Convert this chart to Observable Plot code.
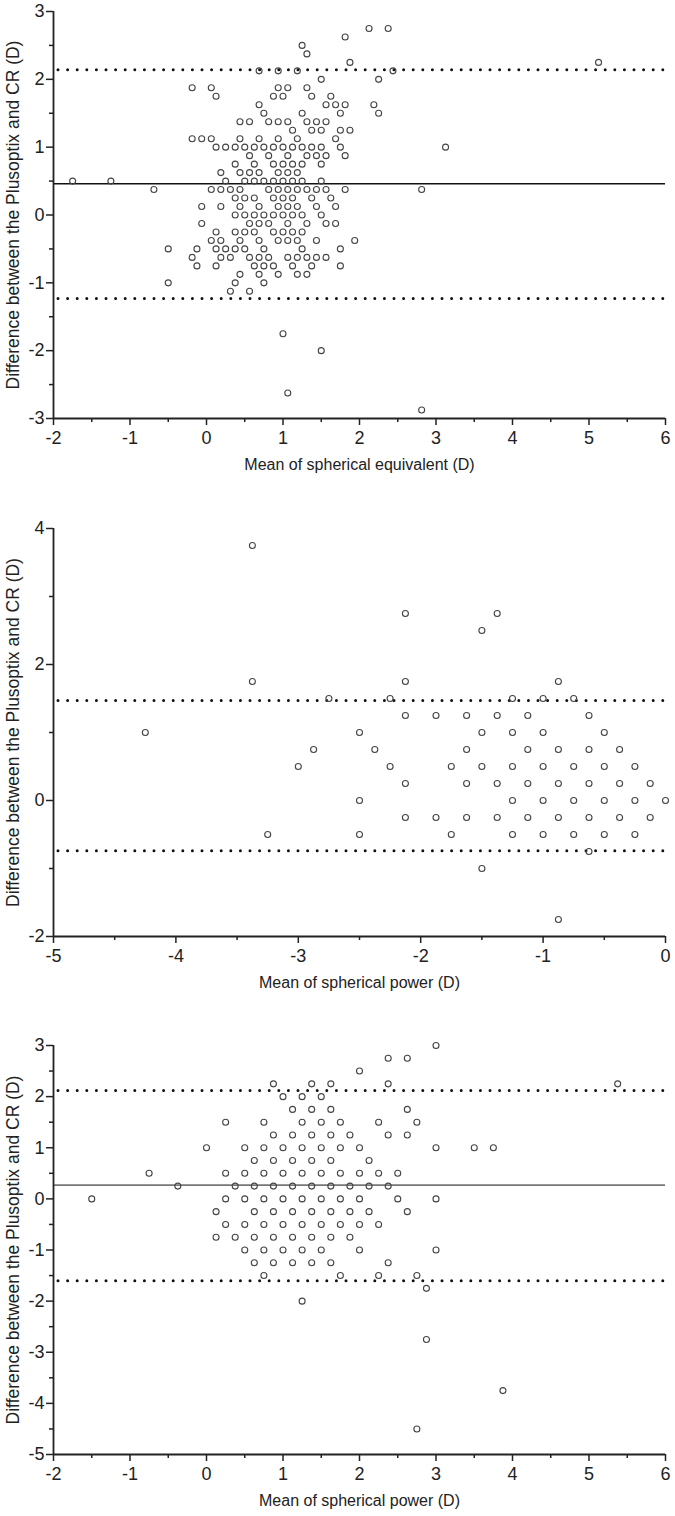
<!DOCTYPE html>
<html><head><meta charset="utf-8">
<script src="https://cdn.jsdelivr.net/npm/d3@7"></script>
<script src="https://cdn.jsdelivr.net/npm/@observablehq/plot@0.6"></script>
<style>
html,body{margin:0;padding:0;background:#fff;}
#chart svg{display:block;}
</style></head><body><div id="chart"></div>
<script>
// ---------- DATA ----------
// Panel A: mean of spherical equivalent vs difference; rows: [difference, [means...]]
const seRows = [
  [2.75, [2.125, 2.375]],
  [2.625, [1.8125]],
  [2.5, [1.25]],
  [2.375, [1.3125]],
  [2.25, [1.875, 5.125]],
  [2.125, [0.6875, 0.9375, 1.1875, 2.4375]],
  [2.0, [1.5, 2.25]],
  [1.875, [-0.1875, 0.0625, 0.9375, 1.0625, 1.3125]],
  [1.75, [0.125, 0.875, 1.0, 1.375, 1.625]],
  [1.625, [0.6875, 1.5625, 1.6875, 1.8125, 2.1875]],
  [1.5, [0.75, 1.25, 1.75, 2.25]],
  [1.375, [0.4375, 0.5625, 0.8125, 0.9375, 1.0625, 1.3125, 1.4375, 1.5625]],
  [1.25, [1.125, 1.375, 1.5, 1.75, 1.875]],
  [1.125, [-0.1875, -0.0625, 0.0625, 0.4375, 0.6875, 0.9375, 1.1875, 1.6875]],
  [1.0, [0.125, 0.25, 0.375, 0.5, 0.625, 0.75, 0.875, 1.0, 1.125, 1.25, 1.375, 1.5, 1.75, 3.125]],
  [0.875, [0.5625, 0.8125, 1.0625, 1.3125, 1.4375, 1.5625, 1.8125]],
  [0.75, [0.375, 0.625, 0.875, 1.0, 1.125, 1.25, 1.5]],
  [0.625, [0.1875, 0.4375, 0.5625, 0.6875, 0.9375, 1.0625, 1.1875]],
  [0.5, [-1.75, -1.25, 0.25, 0.5, 0.625, 0.75, 0.875, 1.0, 1.125, 1.25, 1.5]],
  [0.375, [-0.6875, 0.0625, 0.1875, 0.3125, 0.4375, 0.8125, 0.9375, 1.0625, 1.1875, 1.3125, 1.4375, 1.5625, 1.8125, 2.8125]],
  [0.25, [0.375, 0.5, 0.625, 0.875, 1.0, 1.125, 1.375, 1.625]],
  [0.125, [-0.0625, 0.1875, 0.4375, 0.6875, 0.9375, 1.0625, 1.1875, 1.4375, 1.6875]],
  [0.0, [0.375, 0.5, 0.625, 0.75, 0.875, 1.0, 1.125, 1.25, 1.5]],
  [-0.125, [-0.0625, 0.5625, 0.6875, 0.8125, 1.0625, 1.3125, 1.5625, 1.6875]],
  [-0.25, [0.125, 0.375, 0.5, 0.625, 0.875, 1.0, 1.125, 1.25]],
  [-0.375, [0.0625, 0.1875, 0.4375, 0.6875, 0.9375, 1.0625, 1.1875, 1.4375, 1.9375]],
  [-0.5, [-0.5, -0.125, 0.125, 0.25, 0.375, 0.5, 0.75, 1.25, 1.75]],
  [-0.625, [-0.1875, 0.1875, 0.3125, 0.5625, 0.6875, 0.8125, 1.0625, 1.1875, 1.3125, 1.4375, 1.5625]],
  [-0.75, [-0.125, 0.125, 0.625, 0.75, 0.875, 1.125, 1.375, 1.75]],
  [-0.875, [0.4375, 0.6875, 0.9375, 1.1875, 1.3125]],
  [-1.0, [-0.5, 0.375, 0.75]],
  [-1.125, [0.3125, 0.5625]],
  [-1.75, [1.0]],
  [-2.0, [1.5]],
  [-2.625, [1.0625]],
  [-2.875, [2.8125]]
];

// Panel B: mean of spherical power (myopic) vs difference
const spMyoRows = [
  [3.75, [-3.375]],
  [2.75, [-2.125, -1.375]],
  [2.5, [-1.5]],
  [1.75, [-3.375, -2.125, -0.875]],
  [1.5, [-2.75, -2.25, -1.25, -1.0, -0.75]],
  [1.25, [-2.125, -1.875, -1.625, -1.375, -1.125, -0.625]],
  [1.0, [-4.25, -2.5, -1.5, -1.25, -1.0, -0.5]],
  [0.75, [-2.875, -2.375, -1.625, -1.125, -0.875, -0.625, -0.375]],
  [0.5, [-3.0, -2.25, -1.75, -1.5, -1.25, -1.0, -0.75, -0.5, -0.25]],
  [0.25, [-2.125, -1.625, -1.375, -1.125, -0.875, -0.625, -0.375, -0.125]],
  [0.0, [-2.5, -1.25, -1.0, -0.75, -0.5, -0.25, 0]],
  [-0.25, [-2.125, -1.875, -1.625, -1.375, -1.125, -0.875, -0.625, -0.375, -0.125]],
  [-0.5, [-3.25, -2.5, -1.75, -1.25, -1.0, -0.75, -0.5, -0.25]],
  [-0.75, [-0.625]],
  [-1.0, [-1.5]],
  [-1.75, [-0.875]]
];

// Panel C: mean of spherical power (hyperopic) vs difference
const spHypRows = [
  [3.0, [3.0]],
  [2.75, [2.375, 2.625]],
  [2.5, [2.0]],
  [2.25, [0.875, 1.375, 1.625, 2.375, 5.375]],
  [2.0, [1.0, 1.25, 1.5]],
  [1.75, [1.125, 1.375, 1.625, 2.625]],
  [1.5, [0.25, 0.75, 1.25, 1.5, 1.75, 2.25, 2.75]],
  [1.25, [0.875, 1.125, 1.375, 1.625, 1.875, 2.375, 2.625]],
  [1.0, [0, 0.5, 0.75, 1.0, 1.25, 1.5, 1.75, 2.0, 3.0, 3.5, 3.75]],
  [0.75, [0.625, 0.875, 1.125, 1.375, 1.625, 2.125]],
  [0.5, [-0.75, 0.25, 0.5, 0.75, 1.0, 1.25, 1.5, 1.75, 2.0, 2.25, 2.5]],
  [0.25, [-0.375, 0.375, 0.625, 0.875, 1.125, 1.375, 1.625, 1.875, 2.125, 2.375]],
  [0.0, [-1.5, 0.25, 0.5, 0.75, 1.0, 1.25, 1.5, 1.75, 2.0, 2.5, 3.0]],
  [-0.25, [0.125, 0.625, 0.875, 1.125, 1.375, 1.625, 1.875, 2.125, 2.625]],
  [-0.5, [0.25, 0.5, 0.75, 1.0, 1.25, 1.5, 1.75, 2.0, 2.25]],
  [-0.75, [0.125, 0.375, 0.625, 0.875, 1.125, 1.375, 1.625, 1.875]],
  [-1.0, [0.5, 0.75, 1.0, 1.25, 1.5, 2.0, 3.0]],
  [-1.25, [0.625, 0.875, 1.125, 1.375, 1.625, 2.375]],
  [-1.5, [0.75, 1.75, 2.25, 2.75]],
  [-1.75, [2.875]],
  [-2.0, [1.25]],
  [-2.75, [2.875]],
  [-3.75, [3.875]],
  [-4.5, [2.75]]
];

// Bias lines and limits of agreement per panel
const meanDiff   = [0.46, null, 0.27];
const upperLoA   = [2.14, 1.47, 2.12];
const lowerLoA   = [-1.23, -0.74, -1.6];

// Axes
const xDomains = [[-2, 6], [-5, 0], [-2, 6]];
const yDomains = [[-3, 3], [-2, 4], [-5, 3]];
const xTickLabels = [[-2, -1, 0, 1, 2, 3, 4, 5, 6], [-5, -4, -3, -2, -1, 0], [-2, -1, 0, 1, 2, 3, 4, 5, 6]];
const xMinorTicks = [[-1.5, -0.5, 0.5, 1.5, 2.5, 3.5, 4.5, 5.5], [-4.5, -3.5, -2.5, -1.5, -0.5], [-1.5, -0.5, 0.5, 1.5, 2.5, 3.5, 4.5, 5.5]];
const yTickLabels = [[-3, -2, -1, 0, 1, 2, 3], [-2, 0, 2, 4], [-5, -4, -3, -2, -1, 0, 1, 2, 3]];
const yMinorTicks = [[-2.5, -1.5, -0.5, 0.5, 1.5, 2.5], [-1, 1, 3], [-4.5, -3.5, -2.5, -1.5, -0.5, 0.5, 1.5, 2.5]];
const xTitles = ["Mean of spherical equivalent (D)", "Mean of spherical power (D)", "Mean of spherical power (D)"];
const yTitle = "Difference between the Plusoptix and CR (D)";

// ---------- RENDER ----------
const FONT = "'Liberation Sans', Arial, Helvetica, sans-serif";
const layout = [
  {height: 480, marginTop: 11, marginBottom: 62, meanColor: "#111", meanWidth: 1.5},
  {height: 520, marginTop: 48, marginBottom: 64, meanColor: "#111", meanWidth: 1.5},
  {height: 516, marginTop: 45, marginBottom: 62, meanColor: "#777", meanWidth: 1.8}
];
const allRows = [seRows, spMyoRows, spHypRows];

function panel(i) {
  const L = layout[i];
  const data = allRows[i].flatMap(([y, xs]) => xs.map(x => ({x, y})));
  const fmt = d => String(d);
  return Plot.plot({
    width: 675,
    height: L.height,
    marginTop: L.marginTop,
    marginBottom: L.marginBottom,
    marginLeft: 53,
    marginRight: 10,
    style: {fontFamily: FONT, background: "#fff", color: "#222", overflow: "visible"},
    x: {domain: xDomains[i]},
    y: {domain: yDomains[i]},
    marks: [
      Plot.ruleY([upperLoA[i], lowerLoA[i]], {stroke: "#111", strokeWidth: 3, strokeDasharray: "0 9.6", strokeDashoffset: -5, strokeLinecap: "round"}),
      meanDiff[i] != null ? Plot.ruleY([meanDiff[i]], {stroke: L.meanColor, strokeWidth: L.meanWidth}) : null,
      Plot.dot(data, {x: "x", y: "y", r: 3, stroke: "#444", strokeWidth: 1.1, fill: "none"}),
      Plot.axisX({ticks: xTickLabels[i], tickSize: 7, tickPadding: 6, fontSize: 18, tickFormat: fmt, label: null, stroke: "#222", strokeWidth: 1.5}),
      Plot.axisX({ticks: xMinorTicks[i], tickSize: 4, tickFormat: () => "", label: null, stroke: "#222", strokeWidth: 1.5}),
      Plot.axisY({ticks: yTickLabels[i], tickSize: 7, tickPadding: 2, fontSize: 18, tickFormat: fmt, label: null, stroke: "#222", strokeWidth: 1.5}),
      Plot.axisY({ticks: yMinorTicks[i], tickSize: 4, tickFormat: () => "", label: null, stroke: "#222", strokeWidth: 1.5}),
      Plot.ruleY([yDomains[i][0]], {stroke: "#222", strokeWidth: 1.8}),
      Plot.ruleX([xDomains[i][0]], {stroke: "#222", strokeWidth: 1.8}),
      Plot.text([xTitles[i]], {text: d => d, frameAnchor: "bottom", textAnchor: "middle", lineAnchor: "middle", dy: 46, fontSize: 16, fill: "#222"}),
      Plot.text([yTitle], {text: d => d, frameAnchor: "left", textAnchor: "middle", lineAnchor: "middle", rotate: -90, dx: -40, fontSize: 17.5, fill: "#222"})
    ]
  });
}

const root = document.getElementById("chart");
for (let i = 0; i < 3; i++) root.appendChild(panel(i));
</script></body></html>
